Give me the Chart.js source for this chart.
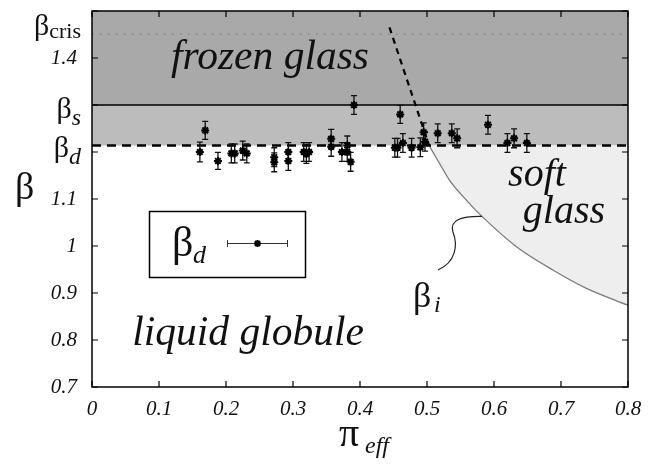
<!DOCTYPE html>
<html>
<head>
<meta charset="utf-8">
<title>Phase diagram</title>
<script src="https://cdn.jsdelivr.net/npm/chart.js@4.4.1/dist/chart.umd.min.js"></script>
<style>
  body { margin: 0; background: #fff; }
  #wrap { width: 652px; height: 466px; }
</style>
</head>
<body>
<div id="wrap"><canvas id="phase" width="652" height="466"></canvas></div>
<script>
// Measured beta_d points (pi_eff, beta, error)
const piEff = [0.161, 0.169, 0.188, 0.208, 0.213, 0.225, 0.231, 0.272, 0.272, 0.293,
               0.293, 0.316, 0.320, 0.324, 0.357, 0.357, 0.373, 0.381, 0.381, 0.386,
               0.391, 0.452, 0.456, 0.460, 0.464, 0.477, 0.490, 0.495, 0.497, 0.516,
               0.537, 0.545, 0.591, 0.620, 0.630, 0.649];
const betaD = [1.200, 1.246, 1.181, 1.197, 1.197, 1.203, 1.197, 1.189, 1.178, 1.200,
               1.181, 1.200, 1.196, 1.200, 1.228, 1.211, 1.200, 1.214, 1.200, 1.179,
               1.300, 1.209, 1.209, 1.280, 1.219, 1.209, 1.210, 1.242, 1.222, 1.240,
               1.240, 1.229, 1.258, 1.219, 1.229, 1.219];
const betaErr = [0.021, 0.019, 0.018, 0.020, 0.020, 0.020, 0.020, 0.020, 0.020, 0.020,
                 0.020, 0.020, 0.020, 0.020, 0.020, 0.020, 0.020, 0.020, 0.020, 0.020,
                 0.020, 0.020, 0.020, 0.019, 0.020, 0.020, 0.020, 0.020, 0.020, 0.020,
                 0.020, 0.020, 0.020, 0.020, 0.020, 0.020];

// Phase boundaries
const betaCris = 1.451;
const betaS = 1.3;
const betaDLine = 1.214;
const betaTop = 1.5;
const betaIPi  = [0.503, 0.519, 0.534, 0.559, 0.582, 0.634, 0.689, 0.738, 0.800];
const betaIVal = [1.214, 1.175, 1.139, 1.097, 1.063, 0.998, 0.948, 0.910, 0.874];
const betaIUpperPi  = [0.444, 0.503];
const betaIUpperVal = [1.465, 1.214];

// Axes
const xTicks = [0, 0.1, 0.2, 0.3, 0.4, 0.5, 0.6, 0.7, 0.8];
const xTickLabels = ['0', '0.1', '0.2', '0.3', '0.4', '0.5', '0.6', '0.7', '0.8'];
const yTicks = [0.7, 0.8, 0.9, 1.0, 1.1, 1.2, 1.3, 1.4, 1.5];
const yTickLabels = ['0.7', '0.8', '0.9', '1', '1.1', '', '', '1.4', ''];

const serif = "'Liberation Serif', Tinos, 'Times New Roman', 'DejaVu Serif', serif";

const pts = (xs, ys) => xs.map((x, i) => ({ x: x, y: ys[i] }));
const hline = (v) => [{ x: 0, y: v }, { x: 0.8, y: v }];

// vertical error bars under the scatter points
const errorBars = {
  id: 'errorBars',
  beforeDatasetDraw(chart, args) {
    if (chart.data.datasets[args.index].label !== 'betaD') return;
    const { ctx, scales: { x, y } } = chart;
    ctx.save();
    ctx.strokeStyle = '#111';
    ctx.lineWidth = 1.3;
    piEff.forEach((p, i) => {
      const px = x.getPixelForValue(p);
      const top = y.getPixelForValue(betaD[i] + betaErr[i]);
      const bot = y.getPixelForValue(betaD[i] - betaErr[i]);
      ctx.beginPath();
      ctx.moveTo(px, top); ctx.lineTo(px, bot);
      ctx.moveTo(px - 3, top); ctx.lineTo(px + 3, top);
      ctx.moveTo(px - 3, bot); ctx.lineTo(px + 3, bot);
      ctx.stroke();
    });
    ctx.restore();
  }
};

// box, inward ticks, labels and the little legend
const decorations = {
  id: 'decorations',
  afterDatasetsDraw(chart) {
    const { ctx, chartArea: a, scales: { x, y } } = chart;
    ctx.save();

    // frame with inward ticks on all four sides
    ctx.strokeStyle = '#000';
    ctx.lineWidth = 1.5;
    ctx.strokeRect(a.left, a.top, a.right - a.left, a.bottom - a.top);
    ctx.lineWidth = 1.2;
    ctx.beginPath();
    xTicks.forEach(v => {
      const px = x.getPixelForValue(v);
      ctx.moveTo(px, a.bottom); ctx.lineTo(px, a.bottom - 6);
      ctx.moveTo(px, a.top); ctx.lineTo(px, a.top + 6);
    });
    yTicks.forEach(v => {
      const py = y.getPixelForValue(v);
      ctx.moveTo(a.left, py); ctx.lineTo(a.left + 6, py);
      ctx.moveTo(a.right, py); ctx.lineTo(a.right - 6, py);
    });
    ctx.stroke();

    ctx.fillStyle = '#111';
    ctx.textBaseline = 'alphabetic';
    ctx.textAlign = 'left';

    // region names
    ctx.font = 'italic 41.5px ' + serif;
    ctx.fillText('frozen glass', x.getPixelForValue(0.118), y.getPixelForValue(1.377));
    ctx.fillText('liquid globule', x.getPixelForValue(0.06), y.getPixelForValue(0.789));
    ctx.font = 'italic 40px ' + serif;
    ctx.fillText('soft', x.getPixelForValue(0.621), y.getPixelForValue(1.127));
    ctx.fillText('glass', x.getPixelForValue(0.643), y.getPixelForValue(1.05));

    // beta_i label with its leader
    ctx.font = '36px ' + serif;
    ctx.fillText('\u03b2', 413, 307);
    ctx.font = 'italic 24px ' + serif;
    ctx.fillText('i', 434, 312);
    ctx.strokeStyle = '#222';
    ctx.lineWidth = 1.2;
    ctx.beginPath();
    ctx.moveTo(438, 270);
    ctx.bezierCurveTo(456, 262, 458, 245, 453, 232);
    ctx.bezierCurveTo(449, 220, 462, 216, x.getPixelForValue(0.582), y.getPixelForValue(1.063));
    ctx.stroke();

    // special values next to the beta axis
    const betaLabel = (sub, italicSub, value, dy) => {
      const base = y.getPixelForValue(value) + dy;
      ctx.font = (italicSub ? 'italic 24px ' : '22px ') + serif;
      const sw = ctx.measureText(sub).width;
      const subX = 81 - sw;
      ctx.fillText(sub, subX, base + (italicSub ? 7 : 3));
      ctx.font = '30px ' + serif;
      const bw = ctx.measureText('\u03b2').width;
      ctx.fillText('\u03b2', subX - bw, base);
    };
    betaLabel('cris', false, betaCris, 1);
    betaLabel('s', true, betaS, 13);
    betaLabel('d', true, betaDLine, 12);

    // axis titles
    ctx.font = '38px ' + serif;
    ctx.fillText('\u03b2', 15, 199);
    ctx.font = '40px ' + serif;
    ctx.fillText('\u03c0', 339, 446);
    ctx.font = 'italic 24px ' + serif;
    ctx.fillText('eff', 365, 453);

    // legend
    ctx.fillStyle = '#fff';
    ctx.fillRect(149.5, 211.5, 156, 66);
    ctx.strokeStyle = '#000';
    ctx.lineWidth = 1.5;
    ctx.strokeRect(149.5, 211.5, 156, 66);
    ctx.fillStyle = '#111';
    ctx.font = '42px ' + serif;
    ctx.fillText('\u03b2', 172, 256);
    ctx.font = 'italic 26px ' + serif;
    ctx.fillText('d', 193, 263);
    ctx.strokeStyle = '#333';
    ctx.lineWidth = 1;
    ctx.beginPath();
    ctx.moveTo(227.5, 243.5); ctx.lineTo(287.5, 243.5);
    ctx.moveTo(227.5, 240); ctx.lineTo(227.5, 247);
    ctx.moveTo(287.5, 240); ctx.lineTo(287.5, 247);
    ctx.stroke();
    ctx.strokeStyle = '#000';
    ctx.lineWidth = 2;
    ctx.beginPath();
    ctx.moveTo(254, 243.5); ctx.lineTo(261, 243.5);
    ctx.moveTo(257.5, 240); ctx.lineTo(257.5, 247);
    ctx.moveTo(255, 241); ctx.lineTo(260, 246);
    ctx.moveTo(260, 241); ctx.lineTo(255, 246);
    ctx.stroke();

    ctx.restore();
  }
};

const lineBase = {
  type: 'line',
  pointRadius: 0,
  pointHoverRadius: 0,
  tension: 0,
  fill: false
};

new Chart(document.getElementById('phase'), {
  data: {
    datasets: [
      {
        type: 'scatter',
        label: 'betaD',
        data: pts(piEff, betaD),
        pointStyle: 'star',
        pointRadius: 4,
        borderColor: '#000',
        borderWidth: 2,
        backgroundColor: '#000',
        order: 0
      },
      Object.assign({}, lineBase, {
        label: 'betaIUpper',
        data: pts(betaIUpperPi, betaIUpperVal),
        borderColor: '#000',
        borderWidth: 2.2,
        borderDash: [6, 5],
        order: 1
      }),
      Object.assign({}, lineBase, {
        label: 'betaDLine',
        data: hline(betaDLine),
        borderColor: '#000',
        borderWidth: 2.5,
        borderDash: [9, 6],
        order: 2
      }),
      Object.assign({}, lineBase, {
        label: 'betaCris',
        data: hline(betaCris),
        borderColor: '#808080',
        borderWidth: 1.3,
        borderDash: [1.5, 6.5],
        order: 3
      }),
      Object.assign({}, lineBase, {
        label: 'softGlass',
        data: pts(betaIPi, betaIVal),
        cubicInterpolationMode: 'monotone',
        borderColor: '#7a7a7a',
        borderWidth: 1.3,
        backgroundColor: '#eeeeee',
        fill: { value: betaDLine },
        order: 4
      }),
      Object.assign({}, lineBase, {
        label: 'betaS',
        data: hline(betaS),
        borderColor: '#000',
        borderWidth: 1.6,
        backgroundColor: '#bcbcbc',
        fill: { value: betaDLine },
        order: 5
      }),
      Object.assign({}, lineBase, {
        label: 'frozen',
        data: hline(betaTop),
        borderWidth: 0,
        borderColor: 'rgba(0,0,0,0)',
        backgroundColor: '#a9a9a9',
        fill: { value: betaS },
        order: 6
      })
    ]
  },
  options: {
    responsive: false,
    animation: false,
    events: [],
    layout: { padding: { top: 11, right: 24, left: 0, bottom: 0 } },
    plugins: {
      legend: { display: false },
      tooltip: { enabled: false }
    },
    scales: {
      x: {
        type: 'linear',
        min: 0,
        max: 0.8,
        grid: { display: false, drawTicks: false },
        border: { display: false },
        afterBuildTicks: (s) => { s.ticks = xTicks.map(v => ({ value: v })); },
        afterFit: (s) => { s.height = 79; s.paddingLeft = 0; s.paddingRight = 0; },
        ticks: {
          padding: 10,
          color: '#111',
          font: { family: serif, size: 21, style: 'italic' },
          maxRotation: 0,
          autoSkip: false,
          callback: (v, i) => xTickLabels[i]
        }
      },
      y: {
        type: 'linear',
        min: 0.7,
        max: 1.5,
        grid: { display: false, drawTicks: false },
        border: { display: false },
        afterBuildTicks: (s) => { s.ticks = yTicks.map(v => ({ value: v })); },
        afterFit: (s) => { s.width = 92; s.paddingTop = 0; s.paddingBottom = 0; },
        ticks: {
          padding: 15,
          color: '#111',
          font: { family: serif, size: 21, style: 'italic' },
          autoSkip: false,
          callback: (v, i) => yTickLabels[i]
        }
      }
    }
  },
  plugins: [errorBars, decorations]
});
</script>
</body>
</html>
